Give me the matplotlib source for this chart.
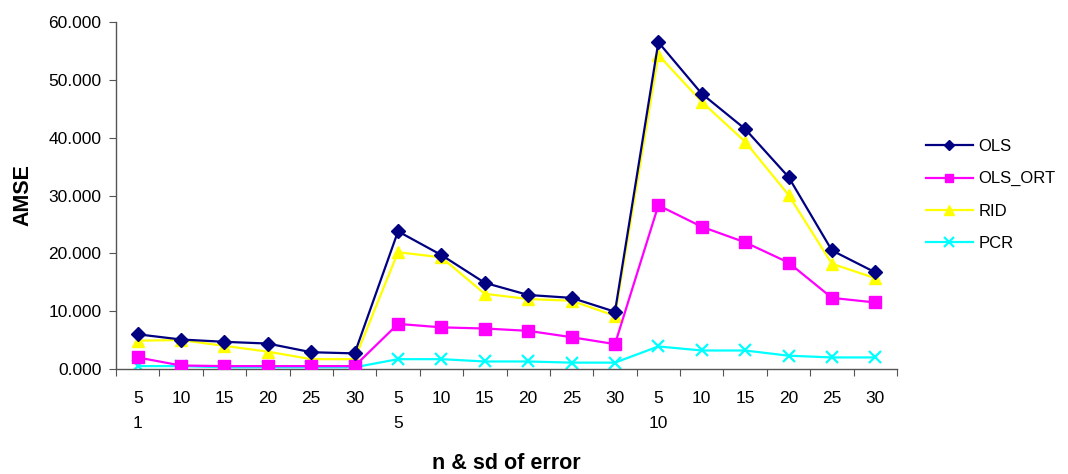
import numpy as np
import matplotlib
matplotlib.use("Agg")
import matplotlib.pyplot as plt
from matplotlib.ticker import FixedLocator, FormatStrFormatter

plt.rcParams['font.family'] = ['Liberation Sans', 'DejaVu Sans']

# sample size n within each error-sd group
n_vals = [5, 10, 15, 20, 25, 30] * 3
sd_vals = [1, 5, 10]

ols = [6.0, 5.1, 4.7, 4.4, 2.9, 2.7,
       23.8, 19.7, 14.9, 12.8, 12.3, 9.9,
       56.5, 47.6, 41.5, 33.2, 20.5, 16.7]
ols_ort = [2.0, 0.6, 0.5, 0.5, 0.5, 0.5,
           7.8, 7.2, 7.0, 6.6, 5.5, 4.3,
           28.3, 24.6, 21.9, 18.4, 12.3, 11.5]
rid = [4.9, 5.0, 4.0, 3.0, 1.7, 1.7,
       20.2, 19.3, 13.0, 12.1, 11.8, 9.2,
       54.3, 46.2, 39.3, 30.1, 18.2, 15.7]
pcr = [0.5, 0.5, 0.3, 0.3, 0.3, 0.3,
       1.7, 1.7, 1.3, 1.3, 1.1, 1.1,
       3.9, 3.2, 3.2, 2.3, 2.0, 2.0]

x = np.arange(len(n_vals))

fig = plt.figure(figsize=(10.68, 4.74), dpi=100)
ax = fig.add_axes([116 / 1068, 1 - 369 / 474, (897 - 116) / 1068, (369 - 22) / 474])

ax.plot(x, ols, color='#000080', marker='D', markersize=7, lw=1.6, label='OLS', zorder=5)
ax.plot(x, ols_ort, color='#ff00ff', marker='s', markersize=8, lw=1.6, label='OLS_ORT', zorder=4)
ax.plot(x, rid, color='#ffff00', marker='^', markersize=9, lw=1.6, label='RID', zorder=3)
ax.plot(x, pcr, color='#00ffff', marker='x', markersize=9, mew=1.6, lw=1.6, label='PCR', zorder=2)

ax.set_xlim(-0.5, len(n_vals) - 0.5)
ax.set_ylim(0, 60)
ax.set_yticks(np.arange(0, 61, 10))
ax.yaxis.set_major_formatter(FormatStrFormatter('%.3f'))

# category boundaries get tick marks, centres get the labels
ax.xaxis.set_major_locator(FixedLocator(np.arange(-0.5, len(n_vals), 1.0)))
ax.set_xticklabels([])
ax.xaxis.set_minor_locator(FixedLocator(x))
labels = []
for i, n in enumerate(n_vals):
    lab = str(n)
    if i % 6 == 0:
        lab += '\n' + str(sd_vals[i // 6])
    labels.append(lab)
ax.set_xticklabels(labels, minor=True, fontsize=12.5, linespacing=1.85)
ax.tick_params(axis='x', which='minor', length=0, pad=15.5)
ax.tick_params(axis='x', which='major', length=5, direction='out', color='#555555')
ax.tick_params(axis='y', length=5, direction='out', color='#555555', labelsize=12.5, pad=5.5)

for side in ['top', 'right']:
    ax.spines[side].set_visible(False)
for side in ['left', 'bottom']:
    ax.spines[side].set_color('#555555')
    ax.spines[side].set_linewidth(1.0)

ax.set_ylabel('AMSE', fontsize=15.5, fontweight='bold')
ax.yaxis.set_label_coords(-0.106, 0.5)
ax.set_xlabel('n & sd of error', fontsize=15.5, fontweight='bold')
ax.xaxis.set_label_coords(0.5, -0.242)

ax.legend(loc='center left', bbox_to_anchor=(911 / 1068, 1 - 195 / 474),
          bbox_transform=fig.transFigure, frameon=False, fontsize=12,
          handlelength=2.8, labelspacing=1.03, handletextpad=0.36,
          markerscale=0.75)

fig.savefig('out.png', dpi=100)
